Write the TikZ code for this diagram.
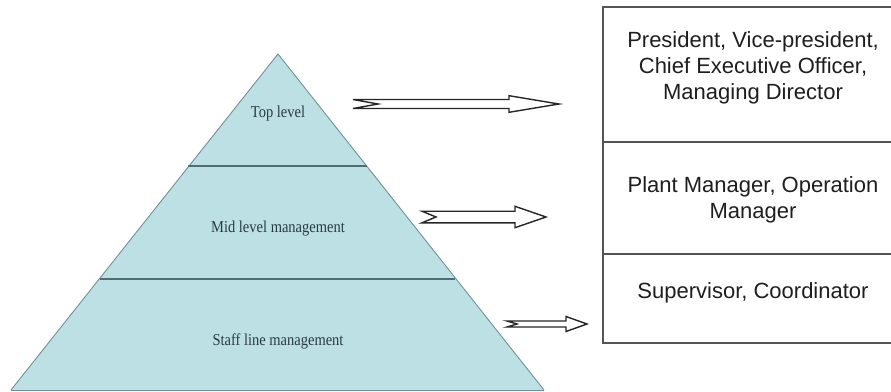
\documentclass[tikz,border=0pt]{standalone}
\usepackage{fontspec}
\setmainfont{Liberation Serif}
\newfontfamily\boxfont{Liberation Sans}
\definecolor{pyrfill}{HTML}{BCE0E4}
\definecolor{pyrline}{HTML}{6F9296}
\definecolor{divline}{HTML}{4E6E73}
\definecolor{pyrtext}{HTML}{2B3A42}
\definecolor{boxline}{HTML}{555555}
\definecolor{boxtext}{HTML}{1E1E1E}
\tikzset{
  levellabel/.style={font=\fontsize{14.5}{17}\selectfont, text=pyrtext, inner sep=0pt},
  rolelabel/.style={font=\boxfont\fontsize{22}{25.7}\selectfont, text=boxtext, align=center, inner sep=0pt},
  fatarrowstyle/.style={draw=black!85, line width=1.4pt, fill=white, line join=miter},
  boxrule/.style={draw=boxline, line width=1.4pt},
}
\newcommand\fatarrow[7]{%
  \draw[fatarrowstyle] (#1,#3-#4) -- (#6,#3-#4) -- (#6,#3-#5) -- (#2,#3)
    -- (#6,#3+#5) -- (#6,#3+#4) -- (#1,#3+#4) -- (#1+#7,#3) -- cycle;}
\newcommand\tallertext[1]{\scalebox{1}[1.15]{#1}}
\begin{document}
\begin{tikzpicture}[x=1pt,y=-1pt]
\useasboundingbox (0,0) rectangle (891,391);
% pyramid
\coordinate (apex) at (278,54);
\coordinate (bl) at (11,390);
\coordinate (br) at (544,390);
\coordinate (d1l) at (188,166);
\coordinate (d1r) at (367,166);
\coordinate (d2l) at (100,279);
\coordinate (d2r) at (455,279);
\fill[pyrfill] (apex) -- (br) -- (bl) -- cycle;
\draw[pyrline, line width=0.9pt, line join=miter] (bl) -- (apex) -- (br);
\draw[pyrline, line width=1pt] (bl) -- (br);
\draw[divline, line width=1.2pt] (d1l) -- (d1r);
\draw[divline, line width=1.2pt] (d2l) -- (d2r);
\node[levellabel] (top) at (278,113) {\tallertext{Top level}};
\node[levellabel] (mid) at (278,229) {\tallertext{Mid level management}};
\node[levellabel] (staff) at (278,341) {\tallertext{Staff line management}};
% right box (right edge lies beyond the picture)
\coordinate (bxtl) at (603,7);
\coordinate (bxbl) at (603,343);
\draw[boxrule] (903,7) -- (bxtl) -- (bxbl) -- (903,343);
\draw[boxrule] (603,142) -- (903,142);
\draw[boxrule] (603,254) -- (903,254);
\node[rolelabel] (r1) at (753,68) {President, Vice-president,\\Chief Executive Officer,\\Managing Director};
\node[rolelabel] (r2) at (753,200) {Plant Manager, Operation\\Manager};
\node[rolelabel] (r3) at (753,293) {Supervisor, Coordinator};
% arrows
\fatarrow{353}{559}{104}{4.5}{8.3}{509}{25}
\fatarrow{422}{546}{217}{5.8}{10.7}{515}{14}
\fatarrow{507}{587}{324}{3}{7.5}{566}{10}
\end{tikzpicture}
\end{document}
